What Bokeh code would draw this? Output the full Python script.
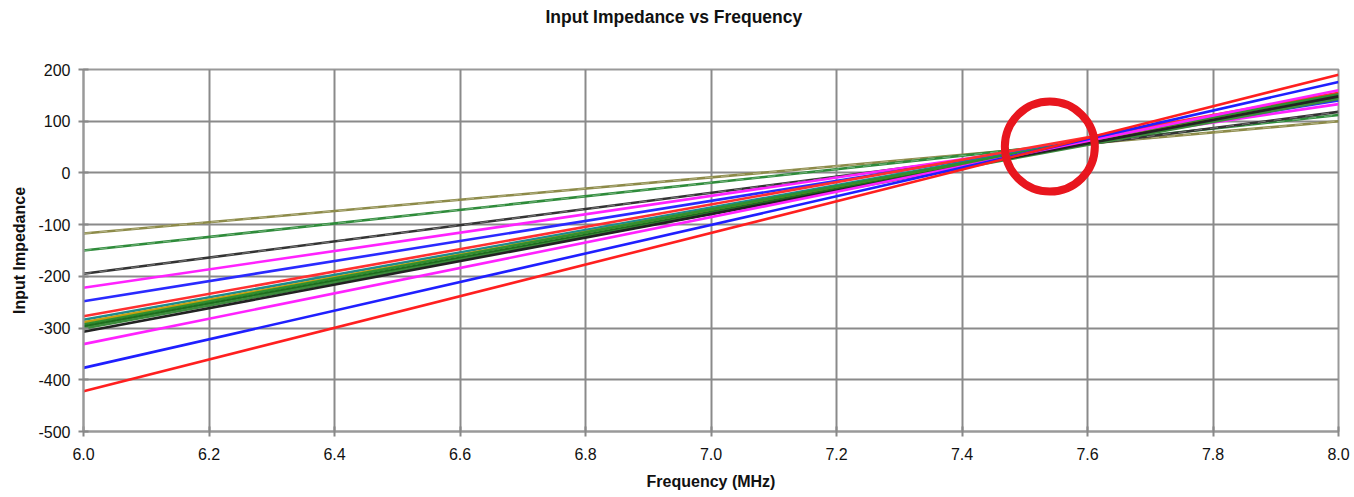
from bokeh.plotting import figure
from bokeh.models import PrintfTickFormatter, FixedTicker, Range1d, Title
from bokeh.embed import file_html
from bokeh.resources import INLINE

# Data: each series is a straight line from 6.0 MHz to 8.0 MHz
freq = [6.0, 8.0]
series_start = [-117, -150, -195, -222, -248, -277, -284, -289, -293, -297, -301, -307, -331, -377, -422]
series_end = [100, 112, 118, 133, 140, 155, 150, 147, 152, 146, 143, 148, 160, 176, 190]
series_color = ["#8C8A48", "#2E8B3A", "#333333", "#FF22FF", "#2A2AFF", "#FF3030",
                "#1E8C8C", "#C8A010", "#2F8F2F", "#1E6E1E", "#3C8C3C", "#222222",
                "#FF22FF", "#1F1FFF", "#FF1F1F"]
series_dash_overlay = [True, True, True, False, False, False, False, False,
                       False, False, False, False, False, False, False]

highlight_x = [7.54]
highlight_y = [51]

title_text = "Input Impedance vs Frequency"

x_ticks = [6.0, 6.2, 6.4, 6.6, 6.8, 7.0, 7.2, 7.4, 7.6, 7.8, 8.0]
y_ticks = [-500, -400, -300, -200, -100, 0, 100, 200]

p = figure(width=1354, height=497, output_backend="svg", toolbar_location=None,
           x_range=Range1d(6.0, 8.0), y_range=Range1d(-500, 200),
           min_border_left=83, min_border_right=16, min_border_top=69, min_border_bottom=66)

# spacer between frame and title (closest to the frame), then the title itself
p.add_layout(Title(text=" ", text_font_size="1px", standoff=40), "above")
p.add_layout(Title(text=title_text, align="left", offset=462, standoff=0,
                   text_font="Liberation Sans", text_font_size="17.5px",
                   text_font_style="bold", text_color="#111111"), "above")

p.outline_line_color = "#999999"
p.outline_line_width = 2
p.background_fill_color = "white"
p.border_fill_color = "white"

for s, e, c, d in zip(series_start, series_end, series_color, series_dash_overlay):
    p.line(freq, [s, e], line_color=c, line_width=2.6)
    if d:
        p.line(freq, [s, e], line_color="white", line_alpha=0.35, line_width=1, line_dash="8 8")

p.scatter(highlight_x, highlight_y, marker="circle", size=90, fill_alpha=0,
          line_color="#E8161E", line_width=8)

for ax in (p.xaxis[0], p.yaxis[0]):
    ax.axis_line_color = "#999999"
    ax.axis_line_width = 2
    ax.major_tick_line_color = "#888888"
    ax.major_tick_line_width = 2
    ax.major_tick_in = 5
    ax.major_tick_out = 5
    ax.minor_tick_line_color = None
    ax.major_label_text_font = "Liberation Sans"
    ax.major_label_text_font_size = "16px"
    ax.major_label_text_color = "#111111"
    ax.axis_label_text_font = "Liberation Sans"
    ax.axis_label_text_font_size = "16px"
    ax.axis_label_text_font_style = "bold"
    ax.axis_label_text_color = "#111111"

p.xaxis.ticker = FixedTicker(ticks=x_ticks)
p.yaxis.ticker = FixedTicker(ticks=y_ticks)
p.xaxis.formatter = PrintfTickFormatter(format="%.1f")
p.yaxis.formatter = PrintfTickFormatter(format="%d")
p.xaxis.axis_label = "Frequency (MHz)"
p.yaxis.axis_label = "Input Impedance"
p.xaxis.major_label_standoff = 11
p.xaxis.axis_label_standoff = 10
p.yaxis.major_label_standoff = 8
p.yaxis.axis_label_standoff = 7

p.xgrid.ticker = FixedTicker(ticks=x_ticks)
p.ygrid.ticker = FixedTicker(ticks=y_ticks)
p.grid.grid_line_color = "#8A8A8A"
p.grid.grid_line_width = 2
p.grid.grid_line_alpha = 1.0

open("out.html", "w").write(file_html(p, INLINE))
